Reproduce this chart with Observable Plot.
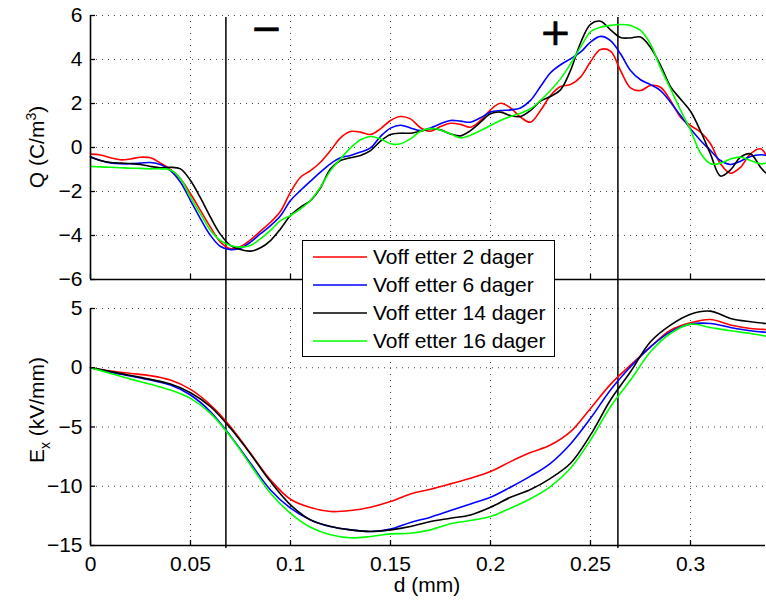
<!DOCTYPE html>
<html><head><meta charset="utf-8">
<script src="https://cdn.jsdelivr.net/npm/d3@7"></script>
<script src="https://cdn.jsdelivr.net/npm/@observablehq/plot@0.6"></script>
<style>
body{margin:0;background:#fff;}
#wrap{position:relative;width:766px;height:602px;font-family:"Liberation Sans",Arial,sans-serif;overflow:hidden;}
#wrap > svg{position:absolute;left:0;overflow:visible;}
#legend{position:absolute;left:302px;top:240px;width:251px;height:115px;border:1px solid #000;background:#fff;font-size:21px;}
.row{position:absolute;left:0;height:28px;display:flex;align-items:center;white-space:nowrap;}
.row svg{margin-left:10px;margin-right:6px;}
</style></head><body><div id="wrap"><div id="legend"></div></div>
<script>
const seriesNames = ["Voff etter 2 dager","Voff etter 6 dager","Voff etter 14 dager","Voff etter 16 dager"];
const seriesColors = ["#ff0000","#0000ff","#000000","#00ff00"];

const dQ = [0,0.005,0.01,0.015,0.02,0.025,0.03,0.035,0.04,0.045,0.05,0.055,0.06,0.065,0.07,0.075,0.08,0.085,0.09,0.095,0.1,0.105,0.11,0.115,0.12,0.125,0.13,0.135,0.14,0.145,0.15,0.155,0.16,0.165,0.17,0.175,0.18,0.185,0.19,0.195,0.2,0.205,0.21,0.215,0.22,0.225,0.23,0.235,0.24,0.245,0.25,0.255,0.26,0.265,0.27,0.275,0.28,0.285,0.29,0.295,0.3,0.305,0.31,0.315,0.32,0.325,0.33,0.335,0.3375];
const q2 = [-0.30,-0.34,-0.47,-0.56,-0.52,-0.44,-0.47,-0.71,-1.00,-1.42,
  -2.10,-2.86,-3.62,-4.30,-4.60,-4.50,-4.20,-3.80,-3.40,-2.90,
  -2.03,-1.35,-1.05,-0.67,-0.14,0.44,0.73,0.70,0.59,0.85,
  1.23,1.41,1.30,0.90,0.74,0.95,1.10,1.05,0.92,1.23,
  1.71,2.01,1.80,1.38,1.15,1.68,2.36,2.77,2.86,3.20,
  3.90,4.45,4.38,3.50,2.71,2.59,2.82,2.74,2.14,1.38,
  1.00,0.70,0.17,-0.74,-1.17,-0.90,-0.29,-0.06,-0.30];
const q6 = [-0.42,-0.59,-0.70,-0.74,-0.74,-0.71,-0.68,-0.77,-1.05,-1.58,
  -2.41,-3.24,-4.00,-4.50,-4.64,-4.58,-4.30,-3.92,-3.55,-3.10,
  -2.41,-1.95,-1.53,-1.12,-0.74,-0.47,-0.36,-0.21,-0.02,0.50,
  0.88,1.01,0.89,0.77,0.89,1.08,1.23,1.20,1.15,1.35,
  1.61,1.68,1.71,1.80,2.14,2.77,3.40,3.76,4.03,4.33,
  4.79,5.05,4.86,4.26,3.50,3.08,2.86,2.59,2.06,1.45,
  0.85,0.32,-0.14,-0.59,-0.77,-0.62,-0.41,-0.33,-0.35];
const q14 = [-0.44,-0.59,-0.68,-0.71,-0.73,-0.77,-0.86,-0.92,-0.90,-0.97,
  -1.50,-2.29,-3.17,-3.95,-4.45,-4.64,-4.71,-4.56,-4.23,-3.70,
  -3.09,-2.71,-2.41,-1.83,-0.97,-0.59,-0.47,-0.36,-0.14,0.29,
  0.59,0.65,0.65,0.74,0.85,0.80,0.62,0.53,0.77,1.15,
  1.53,1.61,1.45,1.41,1.68,2.11,2.32,2.62,3.50,4.75,
  5.60,5.74,5.35,5.00,4.98,5.02,4.55,3.75,2.77,2.20,
  1.65,0.75,-0.30,-1.30,-1.02,-0.44,-0.29,-0.90,-1.15];
const q16 = [-0.86,-0.88,-0.90,-0.92,-0.94,-0.95,-0.97,-0.97,-1.02,-1.42,
  -2.26,-3.02,-3.77,-4.23,-4.45,-4.53,-4.45,-4.15,-3.77,-3.32,
  -3.09,-2.79,-2.41,-1.80,-1.05,-0.52,-0.02,0.35,0.50,0.39,
  0.17,0.17,0.39,0.74,0.86,0.80,0.62,0.44,0.56,0.77,
  1.00,1.23,1.41,1.56,1.76,2.14,2.59,3.12,3.80,4.56,
  5.25,5.47,5.55,5.59,5.55,5.32,4.70,3.62,2.67,1.70,
  0.80,-0.25,-0.74,-0.71,-0.52,-0.44,-0.59,-0.74,-0.72];

const dE = [0,0.01,0.02,0.03,0.04,0.05,0.06,0.07,0.08,0.09,0.1,0.11,0.12,0.13,0.14,0.15,0.16,0.17,0.18,0.19,0.2,0.21,0.22,0.23,0.24,0.25,0.26,0.27,0.28,0.29,0.3,0.31,0.32,0.33,0.3375];
const e2 = [0,-0.28,-0.48,-0.67,-1.04,-1.83,-3.15,-4.97,-7.22,-9.47,-11.1,-11.8,-12.13,-12.05,-11.77,-11.29,-10.65,-10.25,-9.8,-9.33,-8.76,-7.92,-7.16,-6.52,-5.39,-3.43,-1.4,0.22,1.77,3.17,3.79,4.07,3.6,3.31,3.23];
const e6 = [0,-0.37,-0.7,-1.04,-1.46,-2.3,-3.71,-5.76,-8.06,-10.31,-11.85,-12.84,-13.4,-13.68,-13.82,-13.62,-13.06,-12.61,-12.05,-11.49,-10.93,-10.08,-9.15,-8.06,-6.43,-4.27,-1.88,0.08,1.77,3.03,3.68,3.74,3.4,3.12,3.0];
const e14 = [0,-0.31,-0.65,-0.98,-1.38,-2.11,-3.29,-5.11,-7.28,-9.61,-11.57,-12.84,-13.4,-13.68,-13.82,-13.68,-13.4,-12.98,-12.7,-12.42,-11.77,-10.93,-10.27,-9.33,-8.06,-5.67,-2.72,-0.34,2.2,3.6,4.52,4.78,4.16,3.88,3.74];
const e16 = [0,-0.48,-0.96,-1.4,-1.88,-2.58,-3.85,-5.81,-8.2,-10.59,-12.28,-13.46,-14.1,-14.35,-14.24,-14.02,-13.96,-13.68,-13.17,-12.89,-12.56,-11.85,-11.05,-10.03,-8.48,-6.1,-3.29,-1.04,1.35,2.89,3.68,3.4,3.12,2.89,2.67];

const xTicks = [0,0.05,0.1,0.15,0.2,0.25,0.3];
const qTicks = [-6,-4,-2,0,2,4,6];
const eTicks = [-15,-10,-5,0,5];
const markerD = [0.0677,0.2637];
const signs = [{d:0.088,q:5.4,s:"\u2212"},{d:0.2325,q:5.2,s:"+"}];

const font = '"Liberation Sans", Arial, sans-serif';
const fmt = d => String(d).replace("-", "\u2212");
const colorScale = {domain: seriesNames, range: seriesColors};
const qSeries = [q2,q6,q14,q16], eSeries = [e2,e6,e14,e16];
const qRows = seriesNames.flatMap((name,i)=>dQ.map((d,j)=>({d, v:qSeries[i][j], name})));
const eRows = seriesNames.flatMap((name,i)=>dE.map((d,j)=>({d, v:eSeries[i][j], name})));

const W = 766, ML = 90, MR = 1, PW = W-ML-MR;
const grid = {stroke:"#444", strokeOpacity:1, strokeWidth:1, strokeDasharray:"1,5"};

const topSvg = Plot.plot({
  width: W, height: 300, marginTop: 15, marginBottom: 21, marginLeft: ML, marginRight: MR,
  style: {fontFamily: font, fontSize: "21px", background: "transparent", color: "#000"},
  x: {domain: [0, 0.3375], axis: null},
  y: {domain: [-6, 6], axis: null},
  color: colorScale,
  marks: [
    Plot.gridX(xTicks.slice(1), grid),
    Plot.gridY(qTicks.slice(1), grid),
    Plot.ruleX(markerD, {stroke:"#000", strokeWidth:1.5, insetTop:2, insetBottom:-11}),
    Plot.line(qRows, {x:"d", y:"v", stroke:"name", curve:"catmull-rom", strokeWidth:1.6}),
    Plot.text(signs, {x:"d", y:"q", text:"s", fontSize:38, fontFamily:"DejaVu Sans", fill:"#000", stroke:"#000", strokeWidth:0.7}),
    Plot.tickX(xTicks, {x: d=>d, insetTop: 264-5, strokeWidth:1.3}),
    Plot.tickY(qTicks, {y: d=>d, insetRight: PW-5, strokeWidth:1.3}),
    Plot.ruleX([0], {strokeWidth:1.6}),
    Plot.ruleY([-6], {strokeWidth:1.6}),
    Plot.axisY(qTicks, {tickSize:0, tickPadding:8, tickFormat: fmt, label:null})
  ]
});
topSvg.style.top = "0px";

const botSvg = Plot.plot({
  width: W, height: 312, marginTop: 18, marginBottom: 57, marginLeft: ML, marginRight: MR,
  style: {fontFamily: font, fontSize: "21px", background: "transparent", color: "#000"},
  x: {domain: [0, 0.3375], axis: null},
  y: {domain: [-15, 5], axis: null},
  color: colorScale,
  marks: [
    Plot.gridX(xTicks.slice(1), grid),
    Plot.gridY(eTicks.slice(1), grid),
    Plot.ruleX(markerD, {stroke:"#000", strokeWidth:1.5, insetTop:-18, insetBottom:-3}),
    Plot.line(eRows, {x:"d", y:"v", stroke:"name", curve:"catmull-rom", strokeWidth:1.6}),
    Plot.tickX(xTicks, {x: d=>d, insetTop: 237-5, strokeWidth:1.3}),
    Plot.tickY(eTicks, {y: d=>d, insetRight: PW-5, strokeWidth:1.3}),
    Plot.ruleX([0], {strokeWidth:1.6}),
    Plot.ruleY([-15], {strokeWidth:1.6}),
    Plot.axisY(eTicks, {tickSize:0, tickPadding:8, tickFormat: fmt, label:null}),
    Plot.axisX(xTicks, {tickSize:0, tickPadding:11, tickFormat: fmt, label:null})
  ]
});
botSvg.style.top = "290px";

const wrap = document.getElementById("wrap");
wrap.insertBefore(botSvg, wrap.firstChild);
wrap.insertBefore(topSvg, wrap.firstChild);

function addLabel(svg, x, y, rot, parts) {
  const t = d3.select(svg).append("text")
    .attr("transform", `translate(${x},${y})` + (rot ? " rotate(-90)" : ""))
    .attr("text-anchor", "middle").attr("font-family", font).attr("font-size", 21).attr("fill", "#000");
  for (const p of parts) {
    const s = t.append("tspan").text(p.t);
    if (p.dy) s.attr("dy", p.dy);
    if (p.fs) s.attr("font-size", p.fs);
  }
}
addLabel(topSvg, 44, 147, true, [{t:"Q (C/m"},{t:"3", dy:-8, fs:14},{t:")", dy:8}]);
addLabel(botSvg, 44, 120, true, [{t:"E"},{t:"x", dy:6, fs:14},{t:" (kV/mm)", dy:-6}]);
addLabel(botSvg, 427, 302, false, [{t:"d (mm)"}]);

const leg = document.getElementById("legend");
seriesNames.forEach((name, i) => {
  const row = document.createElement("div");
  row.className = "row";
  row.style.top = (2 + i*28) + "px";
  row.innerHTML = `<svg width="54" height="4"><line x1="0" x2="54" y1="2" y2="2" stroke="${seriesColors[i]}" stroke-width="1.6"/></svg><span>${name}</span>`;
  leg.appendChild(row);
});
</script></body></html>
